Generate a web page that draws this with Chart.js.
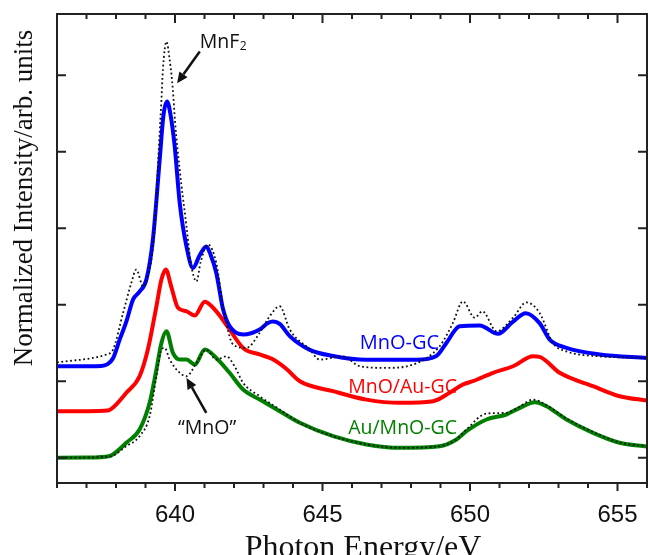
<!DOCTYPE html>
<html>
<head>
<meta charset="utf-8">
<script src="https://cdn.jsdelivr.net/npm/chart.js@4/dist/chart.umd.min.js"></script>
<style>
html,body{margin:0;padding:0;background:#fff;}
#c{display:block;}
</style>
</head>
<body>
<canvas id="c" width="648" height="555" style="width:648px;height:555px"></canvas>
<script>
// ---- Data (photon energy in eV, normalized intensity in arb. units, offset stacked) ----
const mnoGcEnergy = [636.0, 637.0, 637.5, 637.7, 637.9, 638.13, 638.35, 638.58, 638.8, 639.03, 639.25, 639.48, 639.61, 639.73, 639.85, 639.99, 640.16, 640.39, 640.61, 640.84, 641.06, 641.21, 641.4, 641.63, 641.85, 642.31, 642.87, 643.15, 643.32, 643.55, 643.89, 644.57, 645.36, 646.49, 648.18, 648.86, 649.2, 649.65, 650.33, 650.95, 651.46, 651.89, 652.36, 652.7, 653.27, 654.4, 656.0];
const mnoGcIntensity = [1.196, 1.197, 1.2, 1.22, 1.30, 1.55, 1.78, 2.07, 2.17, 2.33, 2.85, 3.89, 4.48, 4.655, 4.48, 4.07, 3.33, 2.76, 2.48, 2.65, 2.76, 2.65, 2.415, 1.94, 1.72, 1.61, 1.675, 1.76, 1.78, 1.75, 1.59, 1.41, 1.33, 1.28, 1.28, 1.33, 1.50, 1.72, 1.73, 1.62, 1.78, 1.89, 1.76, 1.545, 1.436, 1.35, 1.305];

const mnoAuGcEnergy = [636.0, 637.0, 637.72, 637.9, 638.35, 638.8, 639.08, 639.37, 639.54, 639.69, 639.87, 640.1, 640.39, 640.67, 641.01, 641.4, 641.79, 642.31, 642.87, 643.3, 643.78, 644.23, 645.36, 646.49, 647.62, 648.75, 649.31, 649.76, 650.1, 650.78, 651.46, 652.14, 652.36, 653.04, 654.17, 655.07, 656.0];
const mnoAuGcIntensity = [0.608, 0.609, 0.617, 0.657, 0.849, 1.065, 1.414, 1.98, 2.33, 2.46, 2.24, 1.96, 1.914, 1.86, 2.04, 1.914, 1.71, 1.436, 1.35, 1.29, 1.16, 1.0, 0.87, 0.76, 0.718, 0.739, 0.849, 0.957, 1.0, 1.11, 1.196, 1.326, 1.318, 1.11, 0.935, 0.804, 0.748];

const auMnoGcEnergy = [636.0, 637.0, 637.79, 637.9, 638.35, 638.8, 639.14, 639.37, 639.54, 639.71, 639.93, 640.16, 640.39, 640.67, 641.01, 641.4, 641.85, 642.31, 642.87, 643.55, 644.23, 645.36, 646.49, 647.62, 648.97, 649.54, 649.88, 650.56, 651.23, 651.69, 652.2, 652.59, 653.27, 654.17, 655.07, 656.0];
const auMnoGcIntensity = [0, 0.002, 0.023, 0.043, 0.196, 0.37, 0.718, 1.153, 1.5, 1.653, 1.37, 1.283, 1.283, 1.218, 1.414, 1.305, 1.11, 0.892, 0.761, 0.608, 0.457, 0.282, 0.174, 0.13, 0.151, 0.239, 0.347, 0.5, 0.565, 0.653, 0.726, 0.674, 0.5, 0.326, 0.196, 0.148];

const mnf2RefEnergy = [636.0, 637.22, 637.67, 637.9, 638.24, 638.52, 638.69, 638.92, 639.14, 639.31, 639.43, 639.54, 639.59, 639.71, 639.82, 639.93, 640.0, 640.16, 640.39, 640.53, 640.73, 640.87, 641.12, 641.4, 641.63, 641.97, 642.42, 642.87, 643.21, 643.55, 643.89, 644.57, 644.9, 645.69, 646.26, 647.17, 648.07, 648.97, 649.42, 649.76, 650.16, 650.42, 650.9, 651.46, 651.91, 652.36, 652.81, 653.27, 654.4, 656.0];
const mnf2RefIntensity = [1.248, 1.305, 1.35, 1.414, 1.893, 2.285, 2.46, 2.24, 2.46, 2.98, 3.89, 4.68, 5.07, 5.44, 5.2, 4.8, 4.4, 3.76, 3.02, 2.56, 2.305, 2.56, 2.785, 2.545, 1.98, 1.48, 1.436, 1.632, 1.85, 1.98, 1.675, 1.414, 1.283, 1.326, 1.196, 1.175, 1.218, 1.457, 1.762, 2.044, 1.83, 1.914, 1.653, 1.83, 2.03, 1.893, 1.50, 1.39, 1.326, 1.305];

const mnoRefEnergy = [636.0, 637.79, 638.35, 638.8, 639.14, 639.37, 639.54, 639.65, 639.82, 640.16, 640.39, 640.73, 641.06, 641.4, 641.74, 642.02, 642.31, 642.87, 643.55, 644.23, 645.36, 646.49, 647.62, 648.97, 649.54, 649.88, 650.56, 651.23, 651.69, 652.14, 652.59, 653.27, 654.17, 655.07, 656.0];
const mnoRefIntensity = [0, 0.017, 0.151, 0.282, 0.543, 1.065, 1.414, 1.436, 1.283, 1.11, 1.065, 1.24, 1.414, 1.283, 1.326, 1.196, 0.979, 0.804, 0.63, 0.457, 0.282, 0.174, 0.13, 0.151, 0.239, 0.37, 0.578, 0.587, 0.67, 0.761, 0.687, 0.513, 0.337, 0.2, 0.148];

const xTickLabels = ['640', '645', '650', '655'];
const seriesNames = ['MnO-GC', 'MnO/Au-GC', 'Au/MnO-GC'];
const xAxisTitle = 'Photon Energy/eV';
const yAxisTitle = 'Normalized Intensity/arb. units';

// ---- helpers ----
const toXY = (xs, ys) => xs.map((v, i) => ({x: v, y: ys[i]}));
const BLUE = 'rgb(0,0,255)', RED = 'rgb(255,0,0)', GREEN = 'rgb(0,128,0)';

function solid(label, xs, ys, color) {
  return {label, data: toXY(xs, ys), borderColor: color, borderWidth: 4, pointRadius: 0,
    fill: false, cubicInterpolationMode: 'monotone', order: 1};
}
function dotted(label, xs, ys) {
  return {label, data: toXY(xs, ys), borderColor: '#111', borderWidth: 1.8, borderDash: [1.8, 2.6],
    pointRadius: 0, fill: false, cubicInterpolationMode: 'monotone', order: 0};
}

const framePlugin = {
  id: 'frame',
  afterDatasetsDraw(chart) {
    const {ctx, chartArea: a, scales: {x, y}} = chart;
    ctx.save();
    ctx.strokeStyle = '#222';
    ctx.lineWidth = 2;
    ctx.strokeRect(a.left, a.top, a.right - a.left, a.bottom - a.top);
    ctx.beginPath();
    x.ticks.forEach(t => {
      const px = x.getPixelForValue(t.value);
      const major = xTickLabels.includes(String(t.value));
      ctx.moveTo(px, a.bottom); ctx.lineTo(px, a.bottom + (major ? 8 : 5));
      ctx.moveTo(px, a.top); ctx.lineTo(px, a.top + (major ? 9 : 5));
    });
    y.ticks.forEach(t => {
      const py = y.getPixelForValue(t.value);
      ctx.moveTo(a.left, py); ctx.lineTo(a.left + 9, py);
      ctx.moveTo(a.right, py); ctx.lineTo(a.right - 9, py);
    });
    ctx.stroke();

    // axis titles
    ctx.fillStyle = '#111';
    ctx.font = '32px "Liberation Serif", "Times New Roman", serif';
    ctx.textAlign = 'center';
    ctx.textBaseline = 'alphabetic';
    ctx.fillText(xAxisTitle, 363, 557);
    ctx.save();
    ctx.translate(31.5, 198);
    ctx.rotate(-Math.PI / 2);
    ctx.font = '27px "Liberation Serif", "Times New Roman", serif';
    ctx.fillText(yAxisTitle, 0, 0);
    ctx.restore();

    // series labels
    const lab = (s, ex, uy, color, size) => {
      ctx.font = size + 'px "Open Sans", sans-serif';
      ctx.fillStyle = color;
      ctx.textAlign = 'left';
      ctx.fillText(s, x.getPixelForValue(ex), y.getPixelForValue(uy));
    };
    lab(seriesNames[0], 646.26, 1.423, BLUE, 20);
    lab(seriesNames[1], 645.87, 0.849, RED, 19.5);
    lab(seriesNames[2], 645.87, 0.304, GREEN, 19.5);

    // annotations
    ctx.fillStyle = '#111';
    ctx.font = '19.5px "Open Sans", sans-serif';
    const mx = x.getPixelForValue(640.84), my = y.getPixelForValue(5.35);
    ctx.fillText('MnF', mx, my);
    const w = ctx.measureText('MnF').width;
    ctx.font = '12px "Open Sans", sans-serif';
    ctx.fillText('2', mx + w + 0.5, my + 2);
    ctx.font = '19.5px "Open Sans", sans-serif';
    ctx.textAlign = 'center';
    ctx.fillText('\u201CMnO\u201D', x.getPixelForValue(641.09), y.getPixelForValue(0.304));

    const arrow = (e0, u0, e1, u1) => {
      const x0 = x.getPixelForValue(e0), y0 = y.getPixelForValue(u0);
      const x1 = x.getPixelForValue(e1), y1 = y.getPixelForValue(u1);
      const ang = Math.atan2(y1 - y0, x1 - x0);
      const hl = 11, hw = 5;
      const bx = x1 - hl * Math.cos(ang), by = y1 - hl * Math.sin(ang);
      ctx.strokeStyle = '#111'; ctx.lineWidth = 2.5;
      ctx.beginPath(); ctx.moveTo(x0, y0); ctx.lineTo(bx, by); ctx.stroke();
      ctx.beginPath();
      ctx.moveTo(x1, y1);
      ctx.lineTo(bx + hw * Math.sin(ang), by - hw * Math.cos(ang));
      ctx.lineTo(bx - hw * Math.sin(ang), by + hw * Math.cos(ang));
      ctx.closePath(); ctx.fill();
    };
    arrow(640.84, 5.31, 640.07, 4.895);
    arrow(641.06, 0.587, 640.39, 1.044);
    ctx.restore();
  }
};

new Chart(document.getElementById('c'), {
  type: 'line',
  data: {
    datasets: [
      dotted('MnF2 reference', mnf2RefEnergy, mnf2RefIntensity),
      dotted('MnO reference', mnoRefEnergy, mnoRefIntensity),
      solid(seriesNames[0], mnoGcEnergy, mnoGcIntensity, BLUE),
      solid(seriesNames[1], mnoAuGcEnergy, mnoAuGcIntensity, RED),
      solid(seriesNames[2], auMnoGcEnergy, auMnoGcIntensity, GREEN)
    ]
  },
  options: {
    responsive: false,
    devicePixelRatio: 1,
    animation: false,
    layout: {padding: {left: 57, top: 14, right: 1, bottom: 0}},
    plugins: {legend: {display: false}, tooltip: {enabled: false}},
    scales: {
      x: {
        type: 'linear', min: 636, max: 656,
        grid: {display: false, drawTicks: false},
        border: {display: false},
        ticks: {
          stepSize: 1, autoSkip: false, maxRotation: 0, padding: 18,
          color: '#111',
          font: {family: '"Liberation Sans", Arial, sans-serif', size: 24},
          callback: v => xTickLabels.includes(String(v)) ? String(v) : ''
        },
        afterFit: s => { s.height = 72; s.paddingLeft = 0; s.paddingRight = 0; }
      },
      y: {
        type: 'linear', min: -0.33, max: 5.8, display: false,
        ticks: {stepSize: 1}
      }
    }
  },
  plugins: [framePlugin]
});
</script>
</body>
</html>
